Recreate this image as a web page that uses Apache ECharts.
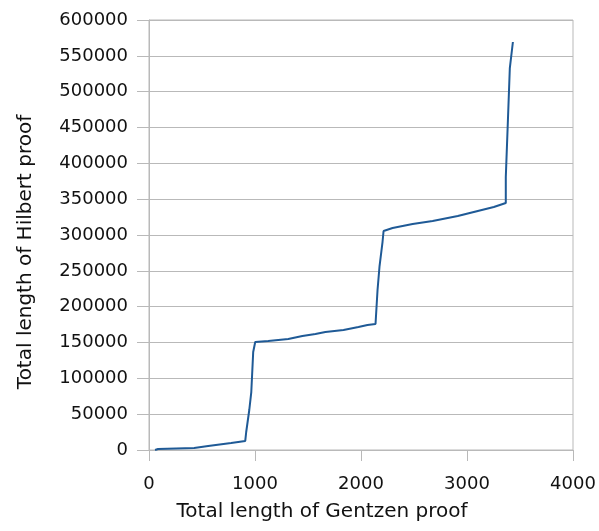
<!DOCTYPE html>
<html>
<head>
<meta charset="utf-8">
<script src="https://cdn.jsdelivr.net/npm/echarts@6/dist/echarts.min.js"></script>
<style>
  html, body { margin: 0; padding: 0; background: #fff; }
  #chart { width: 599px; height: 531px; }
</style>
</head>
<body>
<div id="chart"></div>
<script>
// Gentzen proof length (x) vs Hilbert proof length (y)
const gentzenLen = [57, 85, 426, 558, 775, 908, 917, 946, 965, 974, 983, 1002,
  1125, 1314, 1447, 1570, 1664, 1835, 1976, 2061, 2137, 2156, 2175, 2203, 2213,
  2298, 2487, 2676, 2913, 3064, 3253, 3366, 3366, 3385, 3404, 3433]
const hilbertLen = [0, 1400, 2800, 5600, 9800, 12600, 25100, 55800, 80900, 108800, 136700, 150700,
  152100, 154900, 159100, 161900, 164600, 167400, 171600, 174400, 175800, 223200, 256700, 290200, 305600,
  309800, 315300, 319500, 326500, 332100, 339100, 344600, 380900, 456300, 533000, 569300]

const xTitle = 'Total length of Gentzen proof'
const yTitle = 'Total length of Hilbert proof'

const points = gentzenLen.map((x, i) => [x, hilbertLen[i]])

const gridColor = '#b9b9b9'
const font = '"DejaVu Sans", sans-serif'

const chart = echarts.init(document.getElementById('chart'))
chart.setOption({
  animation: false,
  grid: {
    left: 149, right: 26, top: 20, bottom: 81,
    show: true, borderColor: gridColor, borderWidth: 1
  },
  xAxis: {
    type: 'value',
    min: 0, max: 4000, interval: 1000,
    axisLine: { lineStyle: { color: gridColor, width: 1 } },
    axisTick: { show: true, length: 11, lineStyle: { color: gridColor } },
    splitLine: { show: false },
    axisLabel: { margin: 25, color: '#111', fontFamily: font, fontSize: 18, formatter: v => String(v) }
  },
  yAxis: {
    type: 'value',
    min: 0, max: 600000, interval: 50000,
    axisLine: { show: true, lineStyle: { color: gridColor, width: 1 } },
    axisTick: { show: true, length: 12, lineStyle: { color: gridColor } },
    splitLine: { lineStyle: { color: gridColor, width: 1 } },
    axisLabel: { margin: 21, color: '#111', fontFamily: font, fontSize: 18, formatter: v => String(v) }
  },
  graphic: [
    {
      type: 'text', x: 322, y: 512,
      style: { text: xTitle, fill: '#111', font: '20px ' + font, align: 'center', verticalAlign: 'middle' }
    },
    {
      type: 'text', x: 26, y: 252, rotation: Math.PI / 2,
      style: { text: yTitle, fill: '#111', font: '20px ' + font, align: 'center', verticalAlign: 'middle' }
    }
  ],
  series: [{
    type: 'line',
    data: points,
    showSymbol: false,
    lineStyle: { color: '#1f5a96', width: 2 }
  }]
})
</script>
</body>
</html>
